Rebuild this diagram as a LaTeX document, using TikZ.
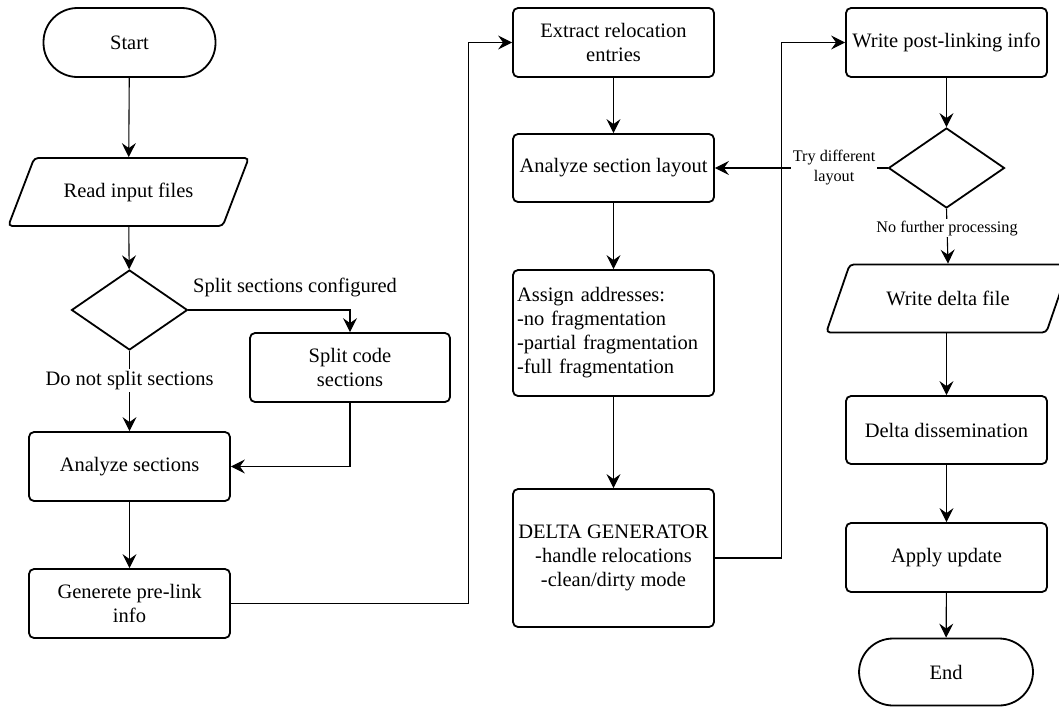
\documentclass[tikz,border=0pt]{standalone}
\usepackage{fontspec}
\setmainfont{Liberation Serif}
\usetikzlibrary{shapes.geometric, arrows.meta, positioning}

\tikzset{
  blk/.style={draw, line width=1.8pt, align=center, inner sep=2pt,
    font=\fontsize{20.5}{24}\selectfont},
  proc/.style={blk, rectangle, rounded corners=5pt,
    minimum width=201pt, minimum height=69pt},
  term/.style={blk, rectangle, rounded corners=34pt,
    minimum width=172pt, minimum height=69pt},
  io/.style={blk, trapezium, trapezium left angle=51, trapezium right angle=129,
    trapezium stretches=true, rounded corners=4pt,
    minimum width=241pt, minimum height=68pt},
  decide/.style={blk, diamond, minimum width=116pt, minimum height=80pt, inner sep=0pt},
  conn/.style={line width=1.1pt, -{Stealth[length=14pt, width=14pt, inset=5pt]}},
  lbl/.style={fill=white, inner sep=2pt, font=\fontsize{20.5}{24}\selectfont},
  smalllbl/.style={lbl, align=center, font=\fontsize{16.2}{20}\selectfont},
}

\begin{document}
\begin{tikzpicture}[x=1pt, y=-1pt]
\clip (0,0) rectangle (1059,707);

% first column
\node[term]   (start)   at (129.5,42.5)  {Start};
\node[io]     (read)    at (128.5,192)   {Read input files};
\node[decide] (dec1)    at (129.5,310)   {};
\node[proc, minimum width=200pt] (split) at (350,367.5) {Split code\\sections};
\node[proc]   (anasec)  at (129.5,466.5) {Analyze sections};
\node[proc]   (prelink) at (129.5,603.5) {Generete pre-link\\info};

% second column
\node[proc]   (extract) at (613.5,42.5)  {Extract relocation\\entries};
\node[proc, minimum height=68pt] (layout) at (613.5,168) {Analyze section layout};
\node[proc, minimum height=126pt, align=left, text width=193pt] (assign) at (613.5,333)
  {Assign addresses:\\-no fragmentation\\-partial fragmentation\\-full fragmentation};
\node[proc, minimum height=138pt] (deltagen) at (613.5,558)
  {DELTA GENERATOR\\-handle relocations\\-clean/dirty mode};

% third column
\node[proc]   (postlink) at (946.5,42.5) {Write post-linking info};
\node[decide] (dec2)     at (946.5,168)  {};
\node[io, minimum width=244pt] (wdelta) at (948,298.5) {Write delta file};
\node[proc, minimum height=68pt] (dissem) at (946.5,430) {Delta dissemination};
\node[proc]   (apply)    at (946.5,557.5) {Apply update};
\node[term, minimum width=174pt, minimum height=67pt] (end) at (946,672) {End};

\draw[conn] (start) -- (read);
\draw[conn] (read) -- (dec1);
\draw[conn] (dec1.east) -| node[lbl, fill=none, above=11pt, pos=0.33] {Split sections configured} (split.north);
\draw[conn] (dec1.south) -- node[lbl, pos=0.37] {Do not split sections} (anasec.north);
\draw[conn] (split.south) |- (anasec.east);
\draw[conn] (anasec) -- (prelink);
\draw[conn] (prelink.east) -- ++(237.5,0) |- (extract.west);

\draw[conn] (extract) -- (layout);
\draw[conn] (layout) -- (assign);
\draw[conn] (assign) -- (deltagen);
\draw[conn] (deltagen.east) -- ++(67,0) |- (postlink.west);

\draw[conn] (postlink) -- (dec2);
\draw[conn] (dec2.west) -- node[smalllbl, pos=0.31] {Try different\\layout} (layout.east);
\draw[conn] (dec2.south) -- node[smalllbl, pos=0.35] {No further processing} (wdelta.north);
\draw[conn] (wdelta.south -| dissem.north) -- (dissem.north);
\draw[conn] (dissem) -- (apply);
\draw[conn] (apply) -- (end);
\end{tikzpicture}
\end{document}
